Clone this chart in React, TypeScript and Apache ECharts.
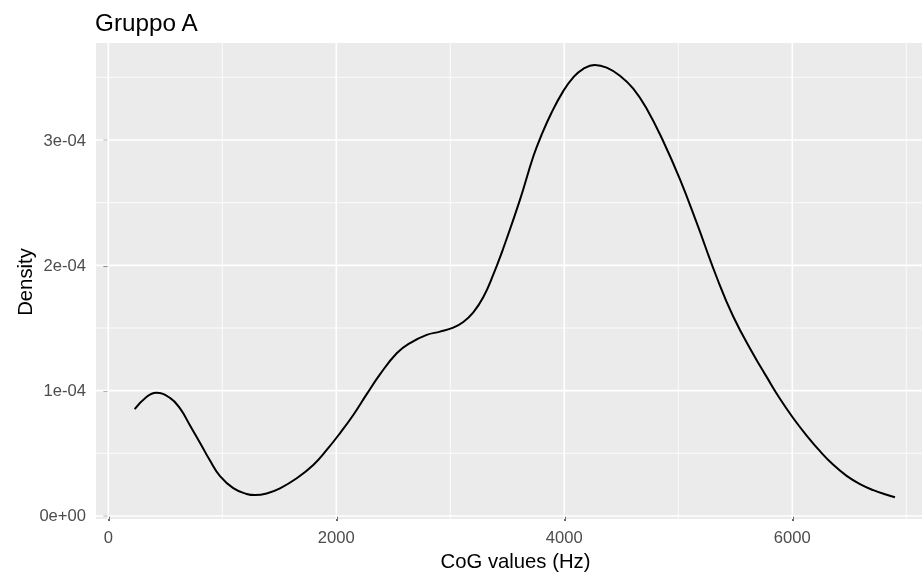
import React, { useEffect, useRef } from "react";
import * as echarts from "echarts";

// Kernel density estimate of CoG values, group A
const cogHz = [
  231, 337, 418, 541, 629, 717, 804, 892, 980, 1096, 1214, 1287, 1389, 1506,
  1653, 1798, 1916, 2032, 2149, 2267, 2383, 2530, 2647, 2793, 2910, 3026, 3114,
  3202, 3289, 3377, 3465, 3611, 3728, 3800, 3889, 3991, 4079, 4167, 4269, 4372,
  4488, 4605, 4723, 4868, 5015, 5161, 5337, 5482, 5658, 5775, 5892, 6009, 6126,
  6243, 6360, 6477, 6594, 6711, 6828, 6901,
];
const density = [
  8.52e-5, 9.52e-5, 9.84e-5, 9.42e-5, 8.58e-5, 7.22e-5, 5.85e-5, 4.42e-5,
  3.18e-5, 2.22e-5, 1.76e-5, 1.67e-5, 1.8e-5, 2.21e-5, 3.01e-5, 4.07e-5,
  5.27e-5, 6.6e-5, 8.06e-5, 9.72e-5, 1.13e-4, 1.298e-4, 1.38e-4, 1.445e-4,
  1.471e-4, 1.503e-4, 1.548e-4, 1.625e-4, 1.745e-4, 1.925e-4, 2.136e-4,
  2.522e-4, 2.868e-4, 3.04e-4, 3.22e-4, 3.39e-4, 3.5e-4, 3.568e-4, 3.599e-4,
  3.577e-4, 3.513e-4, 3.41e-4, 3.25e-4, 2.99e-4, 2.685e-4, 2.34e-4, 1.905e-4,
  1.592e-4, 1.29e-4, 1.11e-4, 9.35e-5, 7.8e-5, 6.42e-5, 5.17e-5, 4.08e-5,
  3.2e-5, 2.54e-5, 2.06e-5, 1.69e-5, 1.49e-5,
];

// Axis breaks
const xMajorTicks = [0, 2000, 4000, 6000];
const xMinorTicks = [1000, 3000, 5000, 7000];
const yMajorTicks = [0, 1e-4, 2e-4, 3e-4];
const yMinorTicks = [0.5e-4, 1.5e-4, 2.5e-4, 3.5e-4];

const X_MIN = -108;
const X_MAX = 7138;
const Y_MIN = -2.4e-6;
const Y_MAX = 3.774e-4;

const FONT = "'Liberation Sans', Arial, Helvetica, sans-serif";

const formatSci = (v: number) => {
  if (v === 0) return "0e+00";
  const [m, e] = v.toExponential(0).split("e");
  const sign = e.startsWith("-") ? "-" : "+";
  const digits = e.replace(/[+-]/, "").padStart(2, "0");
  return `${m}e${sign}${digits}`;
};

export default function App() {
  const ref = useRef<HTMLDivElement>(null);

  useEffect(() => {
    if (!ref.current) return;
    const chart = echarts.init(ref.current, undefined, { renderer: "svg" });

    // gridline rows: [value, kind] kind 0/1 vertical major/minor, 2/3 horizontal major/minor
    const gridRows: number[][] = [
      ...xMajorTicks.map((v) => [v, 0]),
      ...xMinorTicks.map((v) => [v, 1]),
      ...yMajorTicks.map((v) => [v, 2]),
      ...yMinorTicks.map((v) => [v, 3]),
    ];

    const curve = cogHz.map((x, i) => [x, density[i]]);

    chart.setOption({
      animation: false,
      grid: {
        left: 96,
        top: 43,
        right: 0,
        bottom: 57,
        show: true,
        backgroundColor: "#EBEBEB",
        borderWidth: 0,
        containLabel: false,
      },
      xAxis: {
        type: "value",
        min: X_MIN,
        max: X_MAX,
        axisLine: { show: false },
        splitLine: { show: false },
        axisTick: {
          show: true,
          customValues: xMajorTicks,
          length: 5,
          lineStyle: { color: "#333333", width: 1.5 },
        },
        axisLabel: {
          customValues: xMajorTicks,
          margin: 10,
          color: "#4D4D4D",
          fontSize: 16.6,
          fontFamily: FONT,
          formatter: (v: number) => String(v),
        },
      },
      yAxis: {
        type: "value",
        min: Y_MIN,
        max: Y_MAX,
        axisLine: { show: false },
        splitLine: { show: false },
        axisTick: {
          show: true,
          customValues: yMajorTicks,
          length: 5,
          lineStyle: { color: "#333333", width: 1.5 },
        },
        axisLabel: {
          customValues: yMajorTicks,
          margin: 10,
          color: "#4D4D4D",
          fontSize: 16.6,
          fontFamily: FONT,
          formatter: (v: number) => formatSci(v),
        },
      },
      graphic: [
        {
          type: "text",
          x: 95,
          y: 22.2,
          style: {
            text: "Gruppo A",
            fill: "#000000",
            font: `24.3px ${FONT}`,
            align: "left",
            verticalAlign: "middle",
          },
        },
        {
          type: "text",
          x: 515.5,
          y: 561.3,
          style: {
            text: "CoG values (Hz)",
            fill: "#000000",
            font: `20.3px ${FONT}`,
            align: "center",
            verticalAlign: "middle",
          },
        },
        {
          type: "text",
          x: 24.7,
          y: 282,
          rotation: Math.PI / 2,
          style: {
            text: "Density",
            fill: "#000000",
            font: `20.3px ${FONT}`,
            align: "center",
            verticalAlign: "middle",
          },
        },
      ],
      series: [
        {
          type: "custom",
          z: 1,
          silent: true,
          clip: true,
          data: gridRows,
          renderItem: (_params: any, api: any) => {
            const v = api.value(0);
            const kind = api.value(1);
            const major = kind === 0 || kind === 2;
            let p1: number[];
            let p2: number[];
            if (kind < 2) {
              p1 = api.coord([v, Y_MIN]);
              p2 = api.coord([v, Y_MAX]);
            } else {
              p1 = api.coord([X_MIN, v]);
              p2 = api.coord([X_MAX, v]);
            }
            return {
              type: "line",
              shape: { x1: p1[0], y1: p1[1], x2: p2[0], y2: p2[1] },
              style: { stroke: "#FFFFFF", lineWidth: major ? 1.6 : 0.8 },
            };
          },
        },
        {
          type: "line",
          z: 3,
          data: curve,
          smooth: 0.45,
          showSymbol: false,
          symbol: "none",
          lineStyle: { color: "#000000", width: 2 },
          silent: true,
        },
      ],
    });

    return () => chart.dispose();
  }, []);

  return (
    <div
      ref={ref}
      style={{ position: "fixed", left: 0, top: 0, width: 922, height: 576 }}
    />
  );
}
